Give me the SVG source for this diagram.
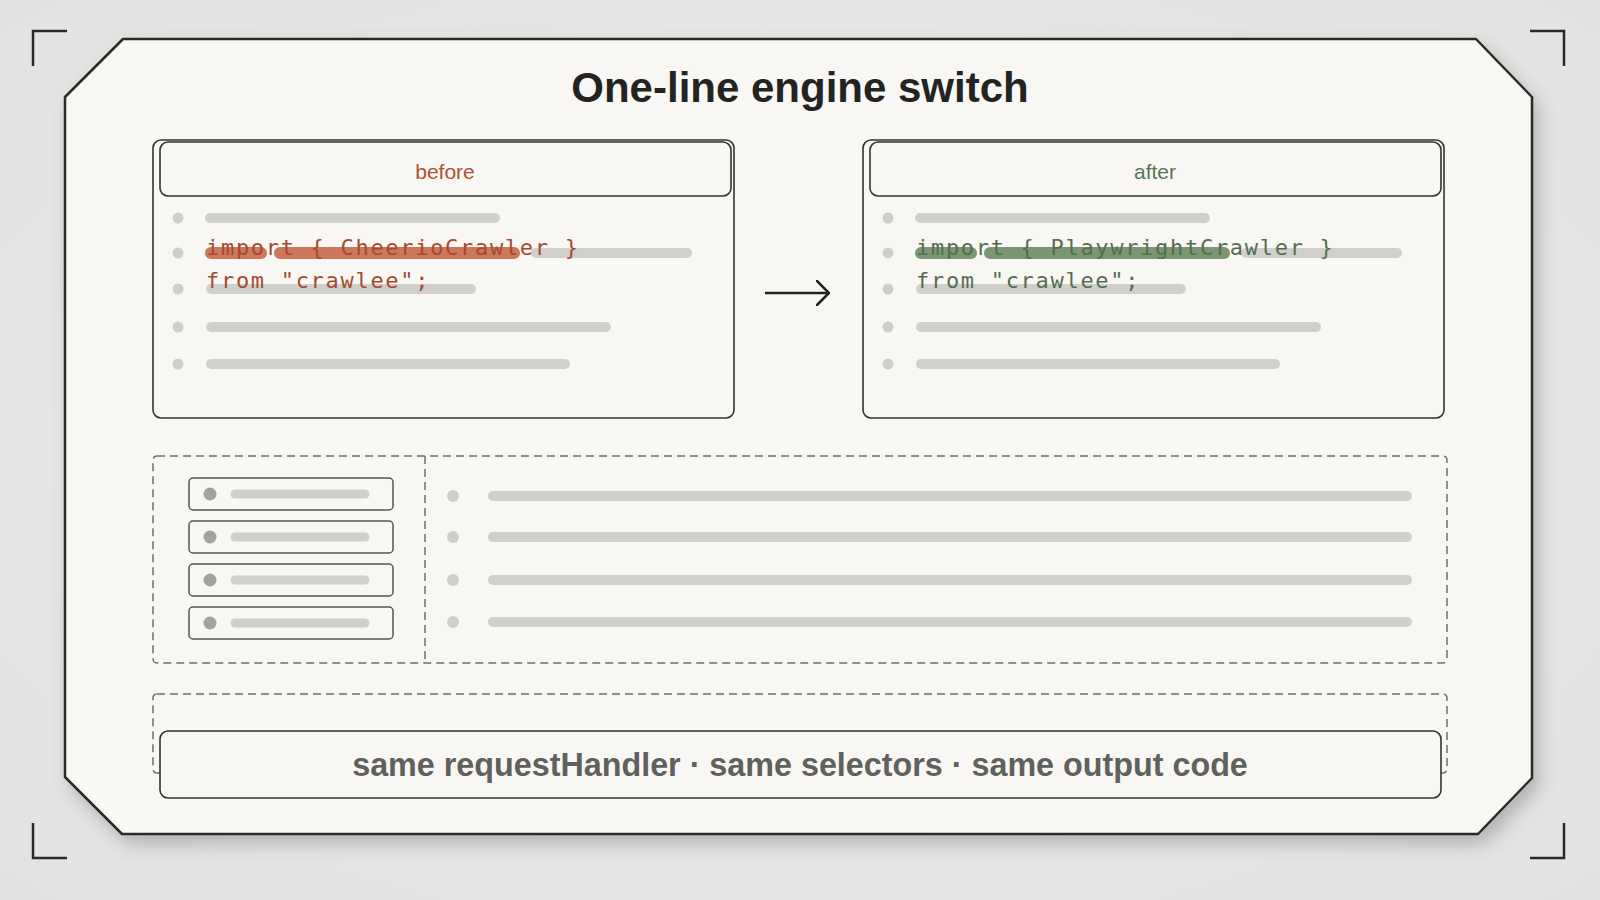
<svg xmlns="http://www.w3.org/2000/svg" width="1600" height="900" viewBox="0 0 1600 900">
<defs>
<radialGradient id="bg" cx="50%" cy="50%" r="75%">
<stop offset="0" stop-color="#eeedeb"/>
<stop offset="1" stop-color="#e3e2e0"/>
</radialGradient>
<filter id="shadow" x="-10%" y="-10%" width="125%" height="125%">
<feDropShadow dx="6" dy="9" stdDeviation="9" flood-color="#000" flood-opacity="0.22"/>
</filter>
<marker id="arrow" viewBox="0 0 14 26" refX="13" refY="13" markerWidth="14" markerHeight="26" markerUnits="userSpaceOnUse" orient="auto">
<path d="M1,1 L13,13 L1,25" fill="none" stroke="#222" stroke-width="2.5" stroke-linecap="round"/>
</marker>
</defs>
<style>
.frame{fill:#f8f7f4;stroke:#2a2a2a;stroke-width:2.5;stroke-linejoin:round}
.bracket{fill:none;stroke:#2a2a2a;stroke-width:2.5}
.title{font-family:"Liberation Sans",Arial,sans-serif;font-weight:bold;font-size:42px;fill:#232422;text-anchor:middle}
.panel{fill:#f8f7f4;stroke:#333;stroke-width:1.6}
.hdr{font-family:"Liberation Sans",Arial,sans-serif;font-size:21px;text-anchor:middle}
.code{font-family:"DejaVu Sans Mono","Liberation Mono",monospace;font-size:22px;letter-spacing:1.7px}
.bar{stroke:#d0cfcb;stroke-width:10;stroke-linecap:round}
.hl{stroke-width:12;stroke-linecap:round}
.dot{fill:#cfcecb}
.dotd{fill:#a3a29f}
.dash{fill:none;stroke:#6e6e6c;stroke-width:1.5;stroke-dasharray:8 5}
.item{fill:#f8f7f4;stroke:#555;stroke-width:1.5}
.sbar{stroke:#d0cfcb;stroke-width:9;stroke-linecap:round}
.foot{font-family:"Liberation Sans",Arial,sans-serif;font-weight:bold;font-size:32.3px;fill:#5f615c;text-anchor:middle}
</style>
<rect x="0" y="0" width="1600" height="900" fill="url(#bg)"/>
<g id="frame">
<polygon class="frame" filter="url(#shadow)" points="123,39 1476,39 1532,97 1532,778 1478,834 122,834 65,777 65,97"/>
<path class="bracket" d="M33,66 V31 H67 M1530,31 H1564 V66 M33,823 V858 H67 M1530,858 H1564 V823"/>
</g>
<g id="title"><text class="title" x="800" y="102">One-line engine switch</text></g>
<g id="before">
<rect class="panel" x="153" y="140" width="581" height="278" rx="8"/>
<rect class="panel" x="160" y="142" width="571" height="54" rx="8"/>
<text class="hdr" x="445" y="179" fill="#ad5236">before</text>
<circle class="dot" cx="178" cy="218" r="5.5"/>
<line class="bar" x1="210" y1="218" x2="495" y2="218"/>
<circle class="dot" cx="178" cy="253" r="5.5"/>
<line class="hl" x1="211" y1="253" x2="261" y2="253" stroke="#c8684a" stroke-opacity="0.9"/>
<line class="hl" x1="280" y1="253" x2="514" y2="253" stroke="#c8684a" stroke-opacity="0.9"/>
<line class="bar" x1="536" y1="253" x2="687" y2="253"/>
<circle class="dot" cx="178" cy="289" r="5.5"/>
<line class="bar" x1="211" y1="289" x2="471" y2="289"/>
<circle class="dot" cx="178" cy="327" r="5.5"/>
<line class="bar" x1="211" y1="327" x2="606" y2="327"/>
<circle class="dot" cx="178" cy="364" r="5.5"/>
<line class="bar" x1="211" y1="364" x2="565" y2="364"/>
<text class="code" x="206" y="255" fill="#a34b31">import { CheerioCrawler }</text>
<text class="code" x="206" y="288" fill="#a34b31">from "crawlee";</text>
</g>
<g id="after">
<rect class="panel" x="863" y="140" width="581" height="278" rx="8"/>
<rect class="panel" x="870" y="142" width="571" height="54" rx="8"/>
<text class="hdr" x="1155" y="179" fill="#577553">after</text>
<circle class="dot" cx="888" cy="218" r="5.5"/>
<line class="bar" x1="920" y1="218" x2="1205" y2="218"/>
<circle class="dot" cx="888" cy="253" r="5.5"/>
<line class="hl" x1="921" y1="253" x2="971" y2="253" stroke="#6d8b65" stroke-opacity="0.9"/>
<line class="hl" x1="990" y1="253" x2="1224" y2="253" stroke="#6d8b65" stroke-opacity="0.9"/>
<line class="bar" x1="1246" y1="253" x2="1397" y2="253"/>
<circle class="dot" cx="888" cy="289" r="5.5"/>
<line class="bar" x1="921" y1="289" x2="1181" y2="289"/>
<circle class="dot" cx="888" cy="327" r="5.5"/>
<line class="bar" x1="921" y1="327" x2="1316" y2="327"/>
<circle class="dot" cx="888" cy="364" r="5.5"/>
<line class="bar" x1="921" y1="364" x2="1275" y2="364"/>
<text class="code" x="916" y="255" fill="#546e50">import { PlaywrightCrawler }</text>
<text class="code" x="916" y="288" fill="#546e50">from "crawlee";</text>
</g>
<g id="connectors">
<line x1="765" y1="293" x2="829" y2="293" stroke="#222" stroke-width="2.5" marker-end="url(#arrow)"/>
</g>
<g id="detail">
<rect class="dash" x="153" y="456" width="1294" height="207" rx="4"/>
<line class="dash" x1="425" y1="456" x2="425" y2="663"/>
<rect class="item" x="189" y="478" width="204" height="32" rx="4"/>
<circle class="dotd" cx="210" cy="494" r="6.5"/>
<line class="sbar" x1="235" y1="494" x2="365" y2="494"/>
<rect class="item" x="189" y="521" width="204" height="32" rx="4"/>
<circle class="dotd" cx="210" cy="537" r="6.5"/>
<line class="sbar" x1="235" y1="537" x2="365" y2="537"/>
<rect class="item" x="189" y="564" width="204" height="32" rx="4"/>
<circle class="dotd" cx="210" cy="580" r="6.5"/>
<line class="sbar" x1="235" y1="580" x2="365" y2="580"/>
<rect class="item" x="189" y="607" width="204" height="32" rx="4"/>
<circle class="dotd" cx="210" cy="623" r="6.5"/>
<line class="sbar" x1="235" y1="623" x2="365" y2="623"/>
<circle class="dot" cx="453" cy="496" r="6" fill="#c4c3c0"/>
<line class="bar" x1="493" y1="496" x2="1407" y2="496"/>
<circle class="dot" cx="453" cy="537" r="6" fill="#c4c3c0"/>
<line class="bar" x1="493" y1="537" x2="1407" y2="537"/>
<circle class="dot" cx="453" cy="580" r="6" fill="#c4c3c0"/>
<line class="bar" x1="493" y1="580" x2="1407" y2="580"/>
<circle class="dot" cx="453" cy="622" r="6" fill="#c4c3c0"/>
<line class="bar" x1="493" y1="622" x2="1407" y2="622"/>
</g>
<g id="footer">
<rect class="dash" x="153" y="694" width="1294" height="79" rx="4"/>
<rect class="panel" x="160" y="731" width="1281" height="67" rx="8"/>
<text class="foot" x="800" y="776">same requestHandler · same selectors · same output code</text>
</g>
</svg>
